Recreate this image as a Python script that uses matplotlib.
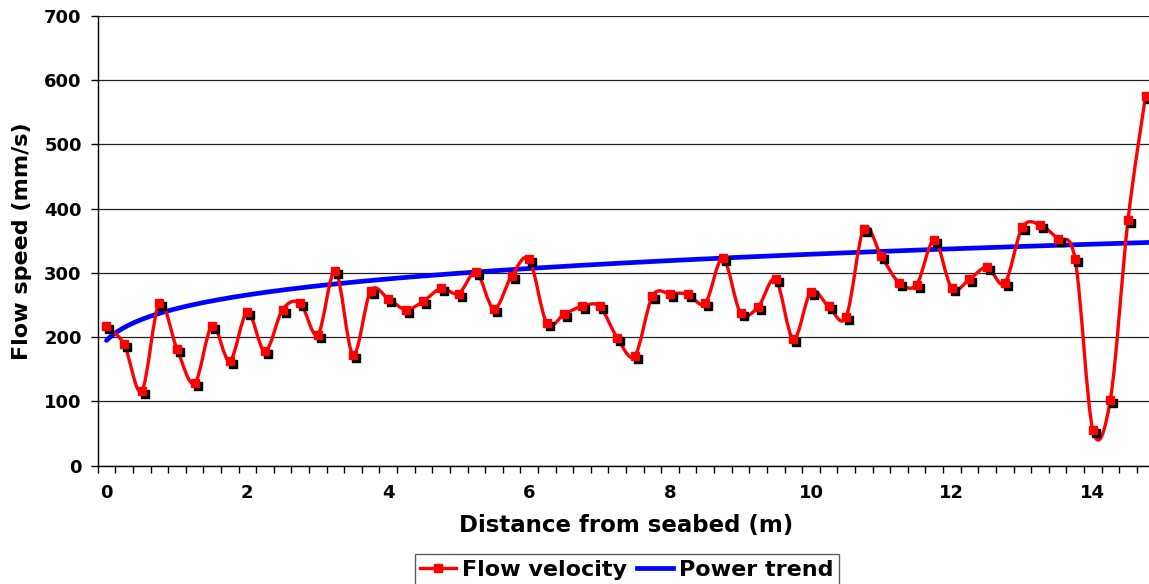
import numpy as np
import matplotlib
matplotlib.use("Agg")
import matplotlib.pyplot as plt
from matplotlib.path import Path
from matplotlib.patches import PathPatch
from matplotlib.lines import Line2D
from matplotlib.transforms import offset_copy

# distance from seabed (m), one reading every 0.25 m
distance = np.arange(60) * 0.25
velocity = [217, 189, 116, 253, 182, 128, 218, 163, 239, 178,
            243, 253, 204, 303, 173, 272, 260, 243, 256, 276,
            268, 301, 244, 295, 321, 222, 236, 248, 248, 199,
            171, 264, 268, 267, 253, 323, 238, 247, 290, 197,
            271, 248, 232, 369, 326, 285, 282, 351, 276, 290,
            309, 284, 371, 375, 353, 321, 56, 103, 382, 576]
# power trend y = a * n^b, n = reading number (1..60)
trend_a = 195.0
trend_b = 0.141
x_ticks = [0, 2, 4, 6, 8, 10, 12, 14]
y_ticks = [0, 100, 200, 300, 400, 500, 600, 700]

plt.rcParams['font.family'] = 'DejaVu Sans'
plt.rcParams['font.weight'] = 'bold'

fig = plt.figure(figsize=(11.49, 5.84), dpi=100)
ax = fig.add_axes([0.0850, 0.2026, 0.9197, 0.7700])

# smoothed line through the points (cubic bezier, like a spreadsheet "smoothed line")
pts = np.column_stack([distance, velocity]).astype(float)
ext = np.vstack([pts[0], pts, pts[-1]])
verts = [pts[0]]
codes = [Path.MOVETO]
for i in range(len(pts) - 1):
    p0, p1, p2, p3 = ext[i], ext[i + 1], ext[i + 2], ext[i + 3]
    verts += [p1 + (p2 - p0) / 6, p2 - (p3 - p1) / 6, p2]
    codes += [Path.CURVE4] * 3
curve = PathPatch(Path(verts, codes), facecolor='none', edgecolor='#ff0000',
                  lw=2.4, zorder=3, capstyle='round', joinstyle='round')
ax.add_patch(curve)

# power trend
xt = np.linspace(0, 14.875, 300)
n = xt / 0.25 + 1
ax.plot(xt, trend_a * n ** trend_b, color='#0000ff', lw=3.4, zorder=2,
        solid_capstyle='round')

# markers with a small drop shadow
shadow = offset_copy(ax.transData, fig=fig, x=3, y=-3, units='dots')
ax.plot(distance, velocity, ls='none', marker='s', ms=5.8, color='black',
        transform=shadow, zorder=4)
ax.plot(distance, velocity, ls='none', marker='s', ms=5.8, color='#ff0000',
        zorder=5)

ax.set_xlim(-0.125, 14.875)
ax.set_ylim(0, 700)
ax.set_xticks(x_ticks)
ax.set_xticklabels([str(t) for t in x_ticks])
ax.set_xticks(np.arange(-0.125, 14.9, 0.25), minor=True)
ax.tick_params(axis='x', which='major', length=0, pad=13.3, labelsize=13)
ax.tick_params(axis='x', which='minor', length=5, width=1, direction='out')
ax.set_yticks(y_ticks)
ax.tick_params(axis='y', which='major', length=5, width=1, pad=6.5, labelsize=13)

ax.grid(axis='y', color='#222222', lw=0.9)
ax.set_axisbelow(True)
for s in ['top', 'right']:
    ax.spines[s].set_visible(False)
for s in ['left', 'bottom']:
    ax.spines[s].set_linewidth(1)

ax.set_xlabel('Distance from seabed (m)', fontsize=16.5, fontweight='bold')
ax.xaxis.set_label_coords(0.5, -0.108)
ax.set_ylabel('Flow speed (mm/s)', fontsize=16, fontweight='bold')
ax.yaxis.set_label_coords(-0.062, 0.5)

handles = [Line2D([], [], color='#ff0000', lw=2.4, marker='s', ms=5.8),
           Line2D([], [], color='#0000ff', lw=3.4)]
leg = fig.legend(handles, ['Flow velocity', 'Power trend'], loc='upper center',
                 bbox_to_anchor=(0.5457, 0.0514), ncol=2, fancybox=False,
                 edgecolor='#333333', fontsize=16, handlelength=1.6,
                 handletextpad=0.28, columnspacing=0.45, borderpad=0.25,
                 borderaxespad=0)
leg.get_frame().set_linewidth(1)
for t in leg.get_texts():
    t.set_fontweight('bold')

fig.savefig('out.png', dpi=100)
